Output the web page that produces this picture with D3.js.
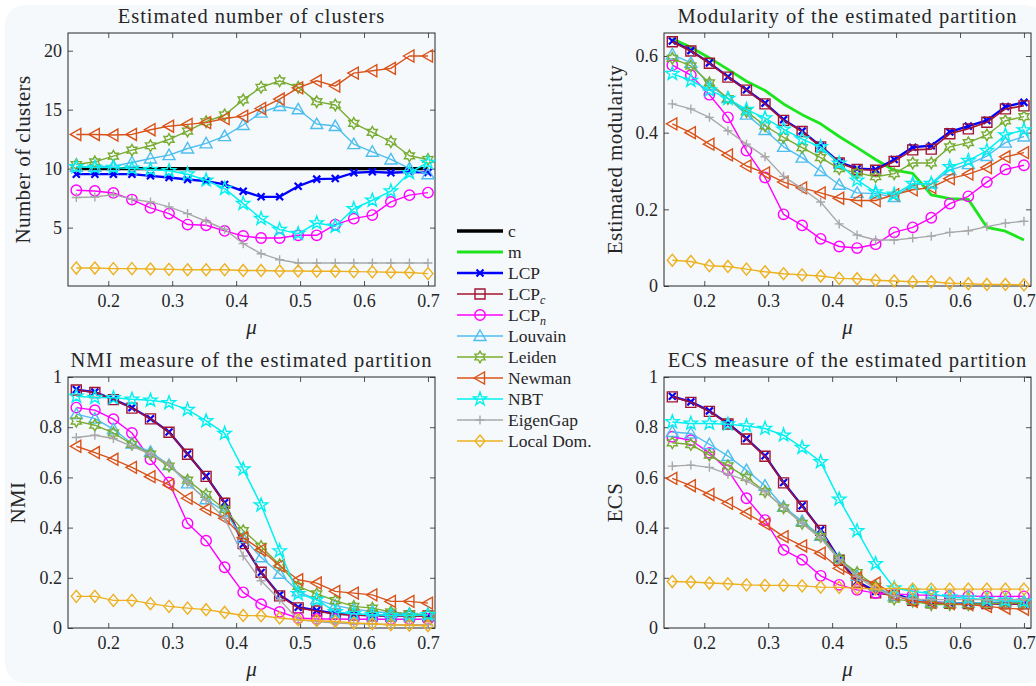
<!DOCTYPE html>
<html>
<head>
<meta charset="utf-8">
<script src="https://cdn.jsdelivr.net/npm/d3@7"></script>
<style>
body { margin: 0; background: #ffffff; }
svg text { font-family: "Liberation Serif", "DejaVu Serif", serif; fill: #262626; }
</style>
</head>
<body>
<svg id="fig" width="1036" height="686"></svg>
<script>

// mixing parameter mu (x values shared by all panels)
var mu = [0.150, 0.179, 0.208, 0.237, 0.266, 0.295, 0.324, 0.353, 0.382, 0.411,
          0.439, 0.468, 0.497, 0.526, 0.555, 0.584, 0.613, 0.642, 0.671, 0.700];
var xTicks = [0.2, 0.3, 0.4, 0.5, 0.6, 0.7];

// --- Estimated number of clusters
var nc_c        = [10,10,10,10,10,10,10,10,10,10,10,10,10,10,10,10,10,10,10,10];
var nc_LCP      = [9.53,9.53,9.53,9.53,9.39,9.25,9.08,8.94,8.66,8.09,7.61,7.61,8.51,9.11,9.16,9.65,9.73,9.65,9.73,9.67];
var nc_LCPn     = [8.17,8.11,7.94,7.38,6.67,6.19,5.26,5.20,4.72,4.29,4.12,4.12,4.35,4.35,5.26,5.76,6.06,7.18,7.75,7.97];
var nc_Louvain  = [10.16,10.16,10.21,10.52,10.86,11.15,11.71,12.14,12.76,13.70,14.75,15.31,15.03,13.78,13.61,12.08,11.43,10.78,10.02,9.53];
var nc_Leiden   = [10.35,10.58,11.06,11.57,11.94,12.48,13.19,13.98,14.55,15.83,16.90,17.44,16.90,15.68,15.40,13.84,13.08,12.28,11.09,10.78];
var nc_Newman   = [12.90,12.90,12.85,12.90,13.30,13.60,13.75,13.90,14.25,14.45,15.10,15.90,16.85,17.45,17.00,18.10,18.30,18.50,19.55,19.55];
var nc_NBT      = [10.16,10.10,10.10,10.02,9.93,9.82,9.53,9.02,8.31,7.04,5.76,4.83,4.49,5.39,5.11,6.60,7.32,8.09,9.65,10.52];
var nc_EigenGap = [7.55,7.60,7.80,7.41,7.18,6.76,6.19,5.54,4.86,3.64,2.79,2.28,2.00,2.00,2.00,2.00,2.00,2.00,2.00,2.00];
var nc_LocalDom = [1.57,1.57,1.52,1.52,1.49,1.46,1.43,1.43,1.43,1.37,1.37,1.32,1.32,1.30,1.30,1.27,1.25,1.22,1.20,1.10];

// --- Modularity of the estimated partition
var mod_m        = [0.645,0.623,0.595,0.565,0.534,0.510,0.475,0.447,0.423,0.390,0.361,0.330,0.302,0.294,0.238,0.228,0.226,0.153,0.143,0.120];
var mod_LCP      = [0.639,0.614,0.582,0.546,0.512,0.477,0.434,0.404,0.365,0.323,0.306,0.304,0.330,0.362,0.366,0.402,0.417,0.432,0.468,0.479];
var mod_LCPc     = [0.637,0.613,0.581,0.545,0.511,0.475,0.432,0.403,0.363,0.321,0.304,0.302,0.325,0.355,0.357,0.397,0.410,0.427,0.462,0.470];
var mod_LCPn     = [0.576,0.550,0.499,0.440,0.353,0.283,0.187,0.158,0.123,0.103,0.099,0.109,0.140,0.153,0.178,0.215,0.234,0.271,0.304,0.315];
var mod_Louvain  = [0.604,0.582,0.523,0.490,0.447,0.407,0.363,0.335,0.300,0.264,0.243,0.241,0.232,0.264,0.267,0.302,0.318,0.339,0.374,0.390];
var mod_Leiden   = [0.594,0.574,0.530,0.489,0.455,0.418,0.388,0.361,0.335,0.306,0.295,0.285,0.293,0.321,0.321,0.363,0.374,0.394,0.431,0.442];
var mod_Newman   = [0.423,0.400,0.370,0.342,0.313,0.295,0.271,0.256,0.243,0.229,0.223,0.223,0.238,0.251,0.257,0.280,0.292,0.309,0.337,0.348];
var mod_NBT      = [0.554,0.536,0.511,0.489,0.460,0.438,0.409,0.383,0.363,0.320,0.276,0.245,0.239,0.267,0.267,0.311,0.327,0.353,0.394,0.407];
var mod_EigenGap = [0.475,0.462,0.440,0.405,0.370,0.337,0.286,0.254,0.219,0.162,0.133,0.120,0.120,0.125,0.130,0.140,0.144,0.155,0.164,0.169];
var mod_LocalDom = [0.067,0.064,0.053,0.051,0.044,0.037,0.032,0.029,0.026,0.020,0.019,0.015,0.013,0.011,0.011,0.007,0.006,0.004,0.004,0.003];

// --- NMI measure of the estimated partition
var nmi_LCP      = [0.950,0.940,0.911,0.878,0.834,0.781,0.693,0.605,0.499,0.334,0.221,0.132,0.083,0.070,0.057,0.053,0.050,0.049,0.049,0.049];
var nmi_LCPc     = [0.948,0.938,0.910,0.876,0.833,0.780,0.692,0.604,0.497,0.336,0.222,0.128,0.080,0.068,0.055,0.052,0.049,0.048,0.048,0.048];
var nmi_LCPn     = [0.878,0.868,0.832,0.777,0.672,0.580,0.417,0.348,0.242,0.142,0.095,0.064,0.040,0.036,0.036,0.035,0.035,0.035,0.035,0.035];
var nmi_Louvain  = [0.852,0.834,0.792,0.735,0.702,0.649,0.576,0.513,0.464,0.358,0.282,0.216,0.146,0.113,0.089,0.075,0.066,0.060,0.056,0.053];
var nmi_Leiden   = [0.824,0.808,0.777,0.732,0.693,0.645,0.589,0.532,0.473,0.388,0.325,0.252,0.166,0.136,0.109,0.086,0.079,0.064,0.056,0.053];
var nmi_Newman   = [0.724,0.699,0.672,0.640,0.603,0.570,0.517,0.473,0.437,0.360,0.311,0.248,0.192,0.179,0.146,0.139,0.132,0.106,0.106,0.099];
var nmi_NBT      = [0.923,0.918,0.917,0.911,0.907,0.897,0.870,0.825,0.775,0.633,0.490,0.307,0.136,0.113,0.064,0.057,0.053,0.050,0.050,0.053];
var nmi_EigenGap = [0.759,0.768,0.755,0.724,0.693,0.653,0.579,0.510,0.437,0.287,0.188,0.113,0.033,0.026,0.020,0.017,0.016,0.013,0.013,0.013];
var nmi_LocalDom = [0.126,0.126,0.110,0.110,0.097,0.086,0.079,0.073,0.062,0.050,0.049,0.040,0.033,0.029,0.026,0.020,0.017,0.013,0.011,0.009];

// --- ECS measure of the estimated partition
var ecs_LCP      = [0.923,0.901,0.865,0.815,0.755,0.686,0.580,0.487,0.391,0.274,0.185,0.146,0.136,0.113,0.102,0.099,0.099,0.099,0.097,0.097];
var ecs_LCPc     = [0.921,0.899,0.863,0.813,0.753,0.684,0.578,0.485,0.389,0.270,0.182,0.140,0.130,0.110,0.100,0.098,0.097,0.097,0.096,0.096];
var ecs_LCPn     = [0.762,0.748,0.698,0.629,0.517,0.430,0.311,0.272,0.208,0.172,0.152,0.139,0.136,0.132,0.130,0.128,0.127,0.126,0.126,0.126];
var ecs_Louvain  = [0.781,0.775,0.732,0.685,0.629,0.567,0.483,0.426,0.367,0.278,0.208,0.166,0.126,0.115,0.102,0.100,0.100,0.102,0.106,0.106];
var ecs_Leiden   = [0.738,0.731,0.689,0.646,0.600,0.543,0.479,0.417,0.364,0.274,0.221,0.166,0.115,0.106,0.093,0.093,0.093,0.097,0.099,0.099];
var ecs_Newman   = [0.596,0.567,0.532,0.497,0.457,0.415,0.364,0.327,0.298,0.238,0.199,0.179,0.132,0.106,0.102,0.097,0.093,0.086,0.079,0.075];
var ecs_NBT      = [0.821,0.815,0.815,0.812,0.805,0.795,0.768,0.719,0.662,0.513,0.387,0.256,0.159,0.146,0.136,0.123,0.119,0.113,0.110,0.106];
var ecs_EigenGap = [0.645,0.649,0.640,0.613,0.587,0.543,0.481,0.417,0.358,0.272,0.205,0.155,0.128,0.115,0.113,0.113,0.113,0.113,0.113,0.113];
var ecs_LocalDom = [0.185,0.183,0.179,0.176,0.172,0.170,0.170,0.168,0.163,0.162,0.159,0.155,0.159,0.155,0.155,0.155,0.155,0.155,0.155,0.155];


// line / marker style of every method (legend order = draw order)
var styles = {
    c:        { color: "#000000", width: 3.4, marker: null },
    m:        { color: "#1de51d", width: 2.8, marker: null },
    LCP:      { color: "#0000ff", width: 2.3, marker: "x" },
    LCPc:     { color: "#a2142f", width: 1.6, marker: "square" },
    LCPn:     { color: "#ff00ff", width: 1.4, marker: "circle" },
    Louvain:  { color: "#4dbeee", width: 1.4, marker: "triup" },
    Leiden:   { color: "#77ac30", width: 1.4, marker: "hexagram" },
    Newman:   { color: "#d95319", width: 1.4, marker: "trileft" },
    NBT:      { color: "#00f0f0", width: 1.5, marker: "pentagram" },
    EigenGap: { color: "#a8a8a8", width: 1.4, marker: "plus" },
    LocalDom: { color: "#edb120", width: 1.4, marker: "diamond" }
};
var legendOrder = ["c", "m", "LCP", "LCPc", "LCPn", "Louvain", "Leiden", "Newman", "NBT", "EigenGap", "LocalDom"];

var svg = d3.select("#fig");

// light rounded background card
svg.append("rect")
    .attr("x", 5).attr("y", 5)
    .attr("width", 1040).attr("height", 678)
    .attr("rx", 20)
    .attr("fill", "#f6f9fc");

// path string for a marker centred on 0,0
function starPath(n, rOut, rIn) {
    var pts = [];
    for (var i = 0; i < 2 * n; i++) {
        var r = (i % 2 === 0) ? rOut : rIn;
        var a = -Math.PI / 2 + i * Math.PI / n;
        pts.push([r * Math.cos(a), r * Math.sin(a)]);
    }
    return "M" + pts.map(function(p) { return p[0].toFixed(2) + "," + p[1].toFixed(2); }).join("L") + "Z";
}
function markerPath(type) {
    switch (type) {
    case "x":        return "M-3.5,-3.5L3.5,3.5M-3.5,3.5L3.5,-3.5";
    case "square":   return "M-5,-5H5V5H-5Z";
    case "circle":   return "M5.2,0A5.2,5.2 0 1,1 -5.2,0A5.2,5.2 0 1,1 5.2,0Z";
    case "triup":    return "M0,-6L6,4.5L-6,4.5Z";
    case "trileft":  return "M-6,0L4.5,-6L4.5,6Z";
    case "diamond":  return "M0,-6L5,0L0,6L-5,0Z";
    case "plus":     return "M-4.5,0H4.5M0,-4.5V4.5";
    case "pentagram":return starPath(5, 7, 2.8);
    case "hexagram": return starPath(6, 5.8, 3.3);
    }
    return "";
}

var plotW = 367;
var xDomain = [0.137, 0.711];

function drawPanel(p) {
    var x = d3.scaleLinear().domain(xDomain).range([p.left, p.left + plotW]);
    var y = d3.scaleLinear().domain(p.yDomain).range([p.top + p.h, p.top]);
    var g = svg.append("g");

    // axes, ticks pointing inwards on all four sides
    g.append("g")
        .attr("transform", "translate(0," + (p.top + p.h) + ")")
        .call(d3.axisBottom(x).tickValues(xTicks).tickSizeInner(-5).tickSizeOuter(0).tickPadding(8)
              .tickFormat(d3.format(".1f")));
    g.append("g")
        .attr("transform", "translate(0," + p.top + ")")
        .call(d3.axisTop(x).tickValues(xTicks).tickSizeInner(-5).tickSizeOuter(0).tickFormat(""));
    g.append("g")
        .attr("transform", "translate(" + p.left + ",0)")
        .call(d3.axisLeft(y).tickValues(p.yTicks).tickSizeInner(-5).tickSizeOuter(0).tickPadding(6)
              .tickFormat(p.yFormat));
    g.append("g")
        .attr("transform", "translate(" + (p.left + plotW) + ",0)")
        .call(d3.axisRight(y).tickValues(p.yTicks).tickSizeInner(-5).tickSizeOuter(0).tickFormat(""));

    g.selectAll(".domain").remove();
    g.selectAll(".tick line").attr("stroke", "#262626").attr("stroke-width", 0.8);
    g.selectAll(".tick text")
        .attr("font-family", "Liberation Serif, serif")
        .attr("font-size", 18)
        .attr("fill", "#262626");

    g.append("rect")
        .attr("x", p.left).attr("y", p.top)
        .attr("width", plotW).attr("height", p.h)
        .attr("fill", "none")
        .attr("stroke", "#262626")
        .attr("stroke-width", 1);

    // series
    var line = d3.line()
        .x(function(d, i) { return x(mu[i]); })
        .y(function(d) { return y(d); });

    p.series.forEach(function(s) {
        var st = styles[s.key];
        g.append("path")
            .datum(s.values)
            .attr("fill", "none")
            .attr("stroke", st.color)
            .attr("stroke-width", st.width)
            .attr("stroke-linejoin", "round")
            .attr("d", line);
        if (st.marker) {
            g.selectAll(null)
                .data(s.values)
                .enter().append("path")
                .attr("transform", function(d, i) { return "translate(" + x(mu[i]) + "," + y(d) + ")"; })
                .attr("d", markerPath(st.marker))
                .attr("fill", "none")
                .attr("stroke", st.color)
                .attr("stroke-width", st.marker === "x" ? 2.2 : 1.4);
        }
    });

    // title and labels
    g.append("text")
        .attr("x", p.left + plotW / 2).attr("y", p.top - 10)
        .attr("text-anchor", "middle")
        .attr("font-size", 20.5)
        .attr("letter-spacing", 1)
        .text(p.title);

    g.append("text")
        .attr("x", p.left + plotW / 2).attr("y", p.top + p.h + 48)
        .attr("text-anchor", "middle")
        .attr("font-size", 21)
        .attr("font-style", "italic")
        .text("\u03bc");

    g.append("text")
        .attr("transform", "translate(" + p.yLabelX + "," + (p.top + p.h / 2) + ") rotate(-90)")
        .attr("text-anchor", "middle")
        .attr("font-size", 21)
        .attr("letter-spacing", 0.4)
        .text(p.yLabel);
}

var fmt1 = d3.format(".1f");
function fmtUnit(d) { return (d === 0 || d === 1) ? String(d) : fmt1(d); }

drawPanel({
    left: 68, top: 33, h: 253,
    yDomain: [0.05, 21.5], yTicks: [5, 10, 15, 20], yFormat: d3.format("d"),
    title: "Estimated number of clusters", yLabel: "Number of clusters", yLabelX: 30,
    series: [
        { key: "c", values: nc_c },
        { key: "LCP", values: nc_LCP },
        { key: "LCPn", values: nc_LCPn },
        { key: "Louvain", values: nc_Louvain },
        { key: "Leiden", values: nc_Leiden },
        { key: "Newman", values: nc_Newman },
        { key: "NBT", values: nc_NBT },
        { key: "EigenGap", values: nc_EigenGap },
        { key: "LocalDom", values: nc_LocalDom }
    ]
});

drawPanel({
    left: 664, top: 33, h: 253,
    yDomain: [0, 0.66], yTicks: [0, 0.2, 0.4, 0.6], yFormat: fmtUnit,
    title: "Modularity of the estimated partition", yLabel: "Estimated modularity", yLabelX: 622,
    series: [
        { key: "m", values: mod_m },
        { key: "LCP", values: mod_LCP },
        { key: "LCPc", values: mod_LCPc },
        { key: "LCPn", values: mod_LCPn },
        { key: "Louvain", values: mod_Louvain },
        { key: "Leiden", values: mod_Leiden },
        { key: "Newman", values: mod_Newman },
        { key: "NBT", values: mod_NBT },
        { key: "EigenGap", values: mod_EigenGap },
        { key: "LocalDom", values: mod_LocalDom }
    ]
});

drawPanel({
    left: 68, top: 377, h: 251,
    yDomain: [0, 1], yTicks: [0, 0.2, 0.4, 0.6, 0.8, 1], yFormat: fmtUnit,
    title: "NMI measure of the estimated partition", yLabel: "NMI", yLabelX: 25,
    series: [
        { key: "LCP", values: nmi_LCP },
        { key: "LCPc", values: nmi_LCPc },
        { key: "LCPn", values: nmi_LCPn },
        { key: "Louvain", values: nmi_Louvain },
        { key: "Leiden", values: nmi_Leiden },
        { key: "Newman", values: nmi_Newman },
        { key: "NBT", values: nmi_NBT },
        { key: "EigenGap", values: nmi_EigenGap },
        { key: "LocalDom", values: nmi_LocalDom }
    ]
});

drawPanel({
    left: 664, top: 377, h: 251,
    yDomain: [0, 1], yTicks: [0, 0.2, 0.4, 0.6, 0.8, 1], yFormat: fmtUnit,
    title: "ECS measure of the estimated partition", yLabel: "ECS", yLabelX: 622,
    series: [
        { key: "LCP", values: ecs_LCP },
        { key: "LCPc", values: ecs_LCPc },
        { key: "LCPn", values: ecs_LCPn },
        { key: "Louvain", values: ecs_Louvain },
        { key: "Leiden", values: ecs_Leiden },
        { key: "Newman", values: ecs_Newman },
        { key: "NBT", values: ecs_NBT },
        { key: "EigenGap", values: ecs_EigenGap },
        { key: "LocalDom", values: ecs_LocalDom }
    ]
});

// legend in the middle column, no frame
var legendLabels = {
    c: ["c"], m: ["m"], LCP: ["LCP"], LCPc: ["LCP", "c"], LCPn: ["LCP", "n"],
    Louvain: ["Louvain"], Leiden: ["Leiden"], Newman: ["Newman"], NBT: ["NBT"],
    EigenGap: ["EigenGap"], LocalDom: ["Local Dom."]
};
var lg = svg.append("g");
var legendY = d3.scalePoint().domain(legendOrder).range([231, 441]);
legendOrder.forEach(function(k) {
    var st = styles[k], yy = legendY(k);
    lg.append("line")
        .attr("x1", 457).attr("x2", 503).attr("y1", yy).attr("y2", yy)
        .attr("stroke", st.color).attr("stroke-width", st.width);
    if (st.marker) {
        lg.append("path")
            .attr("transform", "translate(480," + yy + ")")
            .attr("d", markerPath(st.marker))
            .attr("fill", "none")
            .attr("stroke", st.color)
            .attr("stroke-width", st.marker === "x" ? 2.2 : 1.4);
    }
    var t = lg.append("text")
        .attr("x", 508).attr("y", yy + 6)
        .attr("font-size", 17.5)
        .text(legendLabels[k][0]);
    if (legendLabels[k].length > 1) {
        t.append("tspan")
            .attr("font-size", 12)
            .attr("font-style", "italic")
            .attr("dy", 4)
            .text(legendLabels[k][1]);
    }
});

</script>
</body>
</html>
